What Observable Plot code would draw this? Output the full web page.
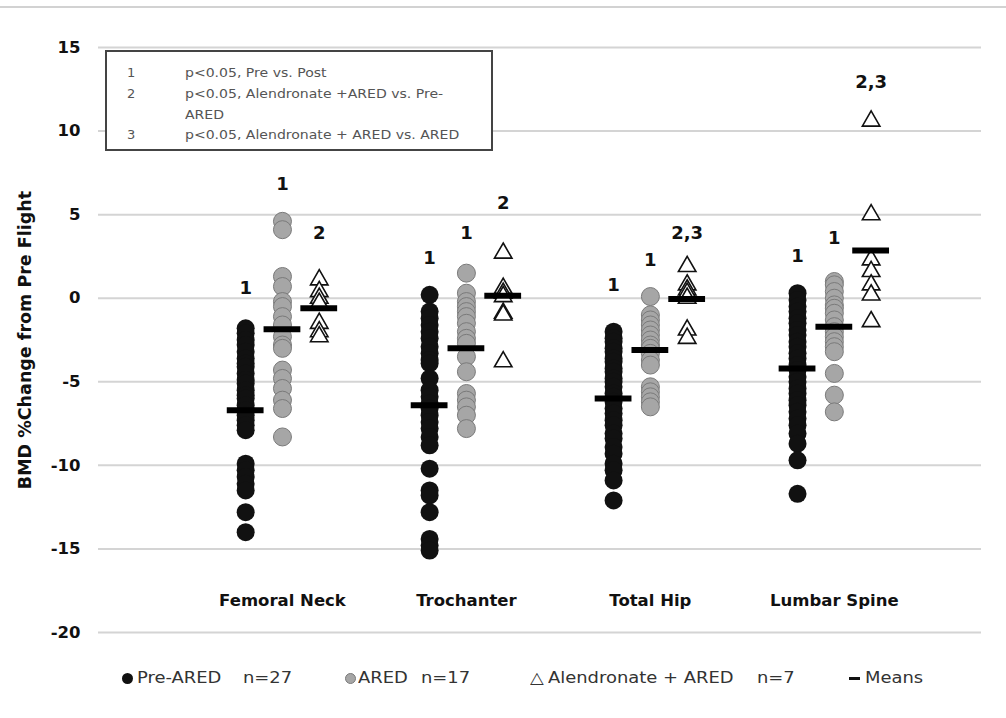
<!DOCTYPE html>
<html>
<head>
<meta charset="utf-8">
<script src="https://cdn.jsdelivr.net/npm/d3@7"></script>
<script src="https://cdn.jsdelivr.net/npm/@observablehq/plot@0.6"></script>
<style>
  body { margin: 0; background: #fff; }
  #wrap { position: relative; width: 1006px; height: 718px; overflow: hidden; background: #fff; font-family: "DejaVu Sans", sans-serif; }
  #topline { position: absolute; left: 0; top: 6px; width: 1006px; border-top: 2px solid #d2d2d2; }
  #chart { position: absolute; left: 0; top: 0; }
  #note { position: absolute; left: 105px; top: 50px; width: 384px; height: 97px; border: 2px solid #444; background: #fff; font-family: "DejaVu Sans", sans-serif; font-size: 13px; color: #555; }
  #note .row { position: absolute; left: 0; white-space: nowrap; line-height: 20px; }
  #note .num { position: absolute; left: 20px; }
  #note .txt { position: absolute; left: 78px; transform: scaleX(1.08); transform-origin: left center; }
  #legend { position: absolute; left: 0; top: 666px; width: 1006px; height: 26px; font-size: 16px; color: #333; }
  #legend span { position: absolute; top: 0; white-space: nowrap; line-height: 24px; }
  #legend span.t { transform: scaleX(1.12); transform-origin: left center; }
  .dot { width: 11px; height: 11px; border-radius: 50%; top: 7px !important; }
</style>
</head>
<body>
<div id="wrap">
  <div id="chart"></div>
  <div id="topline"></div>
  <div id="note"></div>
  <div id="legend"></div>
</div>
<script>
// ---------- data ----------
const sites = ["Femoral Neck", "Trochanter", "Total Hip", "Lumbar Spine"];
const groups = ["Pre-ARED", "ARED", "Alendronate + ARED"];
const groupN = ["n=27", "n=17", "n=7"];
const yTicks = [-20, -15, -10, -5, 0, 5, 10, 15];
const yTitle = "BMD %Change from Pre Flight";

const femoralNeckPre = [-1.8, -2.1, -2.5, -2.8, -3.2, -3.6, -3.9, -4.1, -4.5, -4.9, -5.1, -5.5, -5.8, -6.0, -6.4, -6.7, -7.0, -7.3, -7.6, -7.9, -9.9, -10.3, -10.7, -11.1, -11.5, -12.8, -14.0];
const femoralNeckARED = [4.6, 4.1, 1.3, 0.7, -0.2, -0.5, -1.1, -1.6, -2.3, -2.8, -3.0, -4.3, -4.8, -5.4, -6.1, -6.6, -8.3];
const femoralNeckAlen = [1.1, 0.4, 0.0, -0.3, -1.5, -2.0, -2.3];

const trochanterPre = [0.2, -0.8, -1.2, -1.6, -2.0, -2.4, -2.9, -3.3, -3.7, -3.9, -4.8, -5.5, -5.9, -6.3, -6.6, -7.0, -7.4, -7.8, -8.3, -8.8, -10.2, -11.5, -11.8, -12.8, -14.4, -14.8, -15.1];
const trochanterARED = [1.5, 0.3, -0.2, -0.5, -0.8, -1.1, -1.5, -2.0, -2.4, -2.7, -3.5, -4.4, -5.7, -6.1, -6.5, -7.0, -7.8];
const trochanterAlen = [2.7, 0.6, 0.3, 0.1, -0.9, -1.0, -3.8];

const totalHipPre = [-2.0, -2.4, -2.6, -3.0, -3.2, -3.6, -3.8, -4.2, -4.4, -4.8, -5.0, -5.3, -5.7, -5.9, -6.2, -6.6, -6.9, -7.3, -7.6, -8.1, -8.4, -8.9, -9.3, -9.9, -10.3, -10.9, -12.1];
const totalHipARED = [0.1, -1.0, -1.3, -1.6, -1.9, -2.2, -2.5, -2.8, -3.0, -3.3, -3.7, -4.0, -5.3, -5.6, -5.9, -6.2, -6.5];
const totalHipAlen = [1.9, 0.8, 0.5, 0.3, 0.0, -1.9, -2.4];

const lumbarSpinePre = [0.3, -0.1, -0.5, -0.8, -1.2, -1.5, -1.9, -2.2, -2.6, -2.9, -3.3, -3.6, -4.0, -4.3, -4.7, -5.0, -5.4, -5.7, -6.1, -6.4, -6.8, -7.2, -7.6, -8.1, -8.7, -9.7, -11.7];
const lumbarSpineARED = [1.0, 0.8, 0.4, 0.0, -0.4, -0.6, -0.9, -1.3, -1.7, -2.0, -2.3, -2.6, -2.9, -3.2, -4.5, -5.8, -6.8];
const lumbarSpineAlen = [10.6, 5.0, 2.3, 1.6, 0.8, 0.2, -1.4];

const meansPre = [-6.7, -6.4, -6.0, -4.2];
const meansARED = [-1.85, -3.0, -3.1, -1.7];
const meansAlen = [-0.6, 0.15, -0.05, 2.85];

const sigPre = ["1", "1", "1", "1"];
const sigPreY = [0.6, 2.4, 0.8, 2.5];
const sigARED = ["1", "1", "1", "1"];
const sigAREDY = [6.8, 3.9, 2.3, 3.6];
const sigAlen = ["2", "2", "2,3", "2,3"];
const sigAlenY = [3.9, 5.7, 3.9, 12.9];

const noteNums = ["1", "2", "", "3"];
const noteTexts = ["p<0.05, Pre vs. Post", "p<0.05, Alendronate +ARED vs. Pre-", "ARED", "p<0.05, Alendronate + ARED vs. ARED"];

// ---------- build tables ----------
const pre = [femoralNeckPre, trochanterPre, totalHipPre, lumbarSpinePre];
const ared = [femoralNeckARED, trochanterARED, totalHipARED, lumbarSpineARED];
const alen = [femoralNeckAlen, trochanterAlen, totalHipAlen, lumbarSpineAlen];
const xOf = (siteIdx, g) => siteIdx * 5 + g + 1;

const pts = [];
sites.forEach((s, i) => {
  [pre[i], ared[i], alen[i]].forEach((arr, g) => {
    arr.forEach(v => pts.push({site: s, group: groups[g], x: xOf(i, g), y: v}));
  });
});
const means = [];
const sigs = [];
sites.forEach((s, i) => {
  [meansPre, meansARED, meansAlen].forEach((m, g) => means.push({x: xOf(i, g), y: m[i]}));
  [[sigPre, sigPreY], [sigARED, sigAREDY], [sigAlen, sigAlenY]].forEach(([t, yy], g) => sigs.push({x: xOf(i, g), y: yy[i], text: t[i]}));
});

const font = "'DejaVu Sans', sans-serif";

const chart = Plot.plot({
  width: 1006,
  height: 650,
  marginTop: 47,
  marginBottom: 18,
  marginLeft: 98,
  marginRight: 25,
  style: {fontFamily: font, background: "transparent"},
  x: {domain: [-3, 21], axis: null},
  y: {domain: [-20, 15]},
  marks: [
    Plot.gridY(yTicks, {stroke: "#d4d4d4", strokeOpacity: 1, strokeWidth: 2}),
    Plot.axisY(yTicks, {tickSize: 0, tickPadding: 18, tickFormat: d => String(d), fontSize: 16.5, fontWeight: "bold", fill: "#111", label: null}),
    Plot.text([yTitle], {frameAnchor: "left", textAnchor: "middle", rotate: -90, dx: -73, fontSize: 17.5, fontWeight: "bold", fill: "#111"}),
    Plot.text(sites, {x: (d, i) => xOf(i, 1), y: -18.1, text: d => d, fontSize: 16.5, fontWeight: "bold", fill: "#111"}),
    Plot.dot(pts.filter(d => d.group === groups[0]), {x: "x", y: "y", r: 9, fill: "#111", stroke: "none"}),
    Plot.dot(pts.filter(d => d.group === groups[1]), {x: "x", y: "y", r: 9, fill: "#a6a6a6", stroke: "#7a7a7a", strokeWidth: 1}),
    Plot.dot(pts.filter(d => d.group === groups[2]), {x: "x", y: "y", r: 6.5, symbol: "triangle", fill: "#fff", stroke: "#111", strokeWidth: 1.6}),
    Plot.ruleY(means, {y: "y", x1: d => d.x - 0.5, x2: d => d.x + 0.5, stroke: "#000", strokeWidth: 6}),
    Plot.text(sigs, {x: "x", y: "y", text: "text", fontSize: 18, fontWeight: "bold", fill: "#111"})
  ]
});
document.getElementById("chart").appendChild(chart);

// note box
const note = document.getElementById("note");
const rowTops = [11, 32, 53, 73];
noteTexts.forEach((t, i) => {
  const r = document.createElement("div");
  r.className = "row";
  r.style.top = rowTops[i] + "px";
  r.innerHTML = `<span class="num"></span><span class="txt"></span>`;
  r.querySelector(".num").textContent = noteNums[i];
  r.querySelector(".txt").textContent = t;
  note.appendChild(r);
});

// bottom legend
const legend = document.getElementById("legend");
const items = [
  {html: '<span class="dot" style="left:122px;background:#111"></span>'},
  {left: 137, text: groups[0]}, {left: 243, text: groupN[0]},
  {html: '<span class="dot" style="left:345px;background:#a6a6a6;border:1px solid #7a7a7a;width:9px;height:9px"></span>'},
  {left: 358, text: groups[1]}, {left: 421, text: groupN[1]},
  {left: 530, text: "\u25B3"},
  {left: 548, text: groups[2]}, {left: 757, text: groupN[2]},
  {html: '<span style="left:849px;top:11px;width:11px;height:3px;background:#111"></span>'},
  {left: 865, text: "Means"}
];
items.forEach(it => {
  if (it.html) { legend.insertAdjacentHTML("beforeend", it.html); return; }
  const s = document.createElement("span");
  s.className = "t";
  s.style.left = it.left + "px";
  s.textContent = it.text;
  legend.appendChild(s);
});
</script>
</body>
</html>
